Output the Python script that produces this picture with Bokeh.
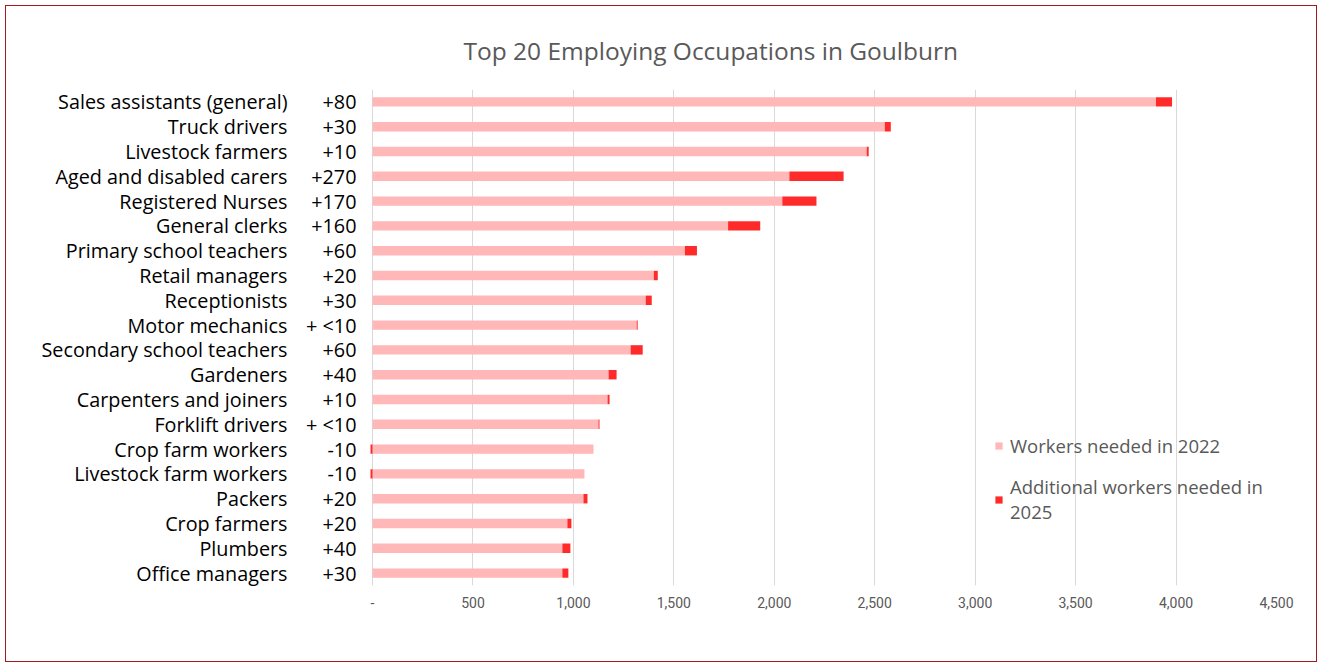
import numpy as np
from bokeh.plotting import figure
from bokeh.models import (ColumnDataSource, FactorRange, Range1d, FixedTicker, NumeralTickFormatter,
                          Legend, LegendItem, CategoricalAxis, CategoricalTicker)
from bokeh.embed import file_html
from bokeh.resources import INLINE

occupations = ["Sales assistants (general)", "Truck drivers", "Livestock farmers", "Aged and disabled carers",
               "Registered Nurses", "General clerks", "Primary school teachers", "Retail managers",
               "Receptionists", "Motor mechanics", "Secondary school teachers", "Gardeners",
               "Carpenters and joiners", "Forklift drivers", "Crop farm workers", "Livestock farm workers",
               "Packers", "Crop farmers", "Plumbers", "Office managers"]
workers_2022 = [3900, 2550, 2460, 2075, 2040, 1770, 1555, 1400, 1360, 1315,
                1285, 1175, 1170, 1125, 1100, 1055, 1050, 970, 945, 945]
additional_2025 = [80, 30, 10, 270, 170, 160, 60, 20, 30, 5,
                   60, 40, 10, 5, -10, -10, 20, 20, 40, 30]
change_labels = ["+80", "+30", "+10", "+270", "+170", "+160", "+60", "+20", "+30", "+ <10",
                 "+60", "+40", "+10", "+ <10", "-10", "-10", "+20", "+20", "+40", "+30"]
x_ticks = [0, 500, 1000, 1500, 2000, 2500, 3000, 3500, 4000, 4500]

base = np.array(workers_2022, dtype=float)
add = np.array(additional_2025, dtype=float)
add_left = np.where(add >= 0, base, 0.0)
add_right = np.where(add >= 0, base + add, add)

# change labels as unique factors (repeated labels get invisible zero-width suffixes)
seen = {}
change_factors = []
for lab in change_labels:
    k = seen.get(lab, 0)
    seen[lab] = k + 1
    change_factors.append(lab + "\u200b" * k)

src = ColumnDataSource(dict(occ=occupations, base=base, zero=np.zeros_like(base),
                            add_left=add_left, add_right=add_right))

FONT = "Open Sans"
GRAY = "#595959"
LABEL_SIZE = "19.8px"

p = figure(width=1312, height=657, output_backend="svg", toolbar_location=None,
           y_range=FactorRange(*occupations[::-1]), x_range=Range1d(-15, 4500),
           y_axis_location=None,
           min_border_left=363, min_border_right=42, min_border_top=83, min_border_bottom=78)
p.extra_y_ranges = {"chg": FactorRange(*change_factors[::-1])}
p.styles = {"border": "1px solid #a3191c", "margin-left": "5px", "margin-top": "5px"}
p.outline_line_color = None
p.background_fill_color = "white"
p.border_fill_color = "white"

r1 = p.hbar(y="occ", left="zero", right="base", height=0.38, source=src,
            fill_color="#ffb7b7", line_color=None)
r2 = p.hbar(y="occ", left="add_left", right="add_right", height=0.38, source=src,
            fill_color="#ff2b2b", line_color=None)

# title
p.title.text = "Top 20 Employing Occupations in Goulburn"
p.title.align = "left"
p.title.offset = 94
p.title.text_font = FONT
p.title.text_font_size = "24.5px"
p.title.text_font_style = "normal"
p.title.text_color = GRAY
p.title.standoff = 46

# x axis
p.xaxis.ticker = FixedTicker(ticks=x_ticks)
p.xaxis.formatter = NumeralTickFormatter(format="0,0")
p.xaxis.major_label_overrides = {0: "-"}
p.xaxis.axis_line_color = None
p.xaxis.major_tick_line_color = None
p.xaxis.minor_tick_line_color = None
p.xaxis.major_tick_out = 0
p.xaxis.major_label_standoff = 11
p.xaxis.major_label_text_font = "Roboto"
p.xaxis.major_label_text_font_size = "14px"
p.xaxis.major_label_text_color = GRAY


def style_axis(ax, standoff):
    ax.axis_line_color = None
    ax.major_tick_line_color = None
    ax.minor_tick_line_color = None
    ax.major_tick_out = 0
    ax.major_tick_in = 0
    ax.major_label_standoff = standoff
    ax.major_label_text_font = FONT
    ax.major_label_text_font_size = LABEL_SIZE
    ax.major_label_text_color = "#000000"


# inner left axis: change labels
chg_axis = CategoricalAxis(y_range_name="chg", ticker=CategoricalTicker())
style_axis(chg_axis, 13)
p.add_layout(chg_axis, "left")

# outer left axis: occupation names
name_axis = CategoricalAxis(ticker=CategoricalTicker())
style_axis(name_axis, 16)
p.add_layout(name_axis, "left")

p.xgrid.grid_line_color = "#d9d9d9"
p.ygrid.grid_line_color = None

legend = Legend(items=[LegendItem(label="Workers needed in 2022", renderers=[r1]),
                       LegendItem(label="Additional workers needed in\n2025", renderers=[r2])],
                location=(625, 61), orientation="vertical")
legend.background_fill_alpha = 0
legend.border_line_color = None
legend.padding = 0
legend.margin = 0
legend.glyph_width = 9
legend.glyph_height = 9
legend.label_standoff = 7
legend.spacing = 16
legend.label_text_font = FONT
legend.label_text_font_size = "18.5px"
legend.label_text_line_height = 0.88
legend.label_text_color = GRAY
p.add_layout(legend)

open("out.html", "w").write(file_html(p, INLINE))
